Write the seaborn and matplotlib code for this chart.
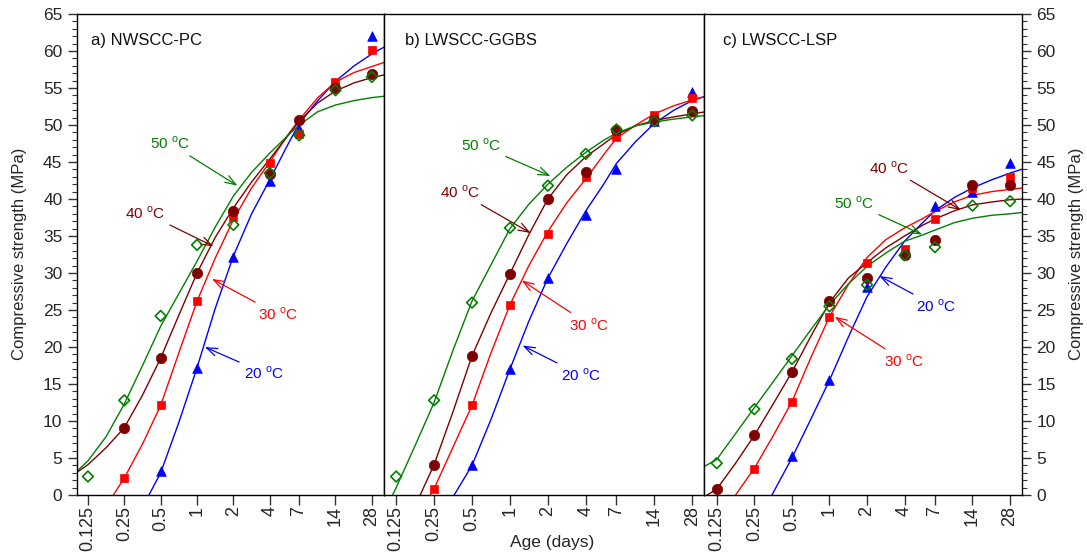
import numpy as np
import pandas as pd
import seaborn as sns
import matplotlib.pyplot as plt
from matplotlib.ticker import MultipleLocator, NullLocator, FixedLocator

nan = np.nan

# test ages (days) and curing temperatures
ages = [0.125, 0.25, 0.5, 1, 2, 4, 7, 14, 28]
age_labels = ['0.125', '0.25', '0.5', '1', '2', '4', '7', '14', '28']
temps = ['20', '30', '40', '50']

# measured compressive strength (MPa), NaN = no result
pc_20 = [nan, nan, 3.2, 17.2, 32.2, 42.4, 49.5, 55.5, 62.0]
pc_30 = [nan, 2.3, 12.1, 26.2, 37.6, 44.8, 48.8, 55.8, 60.1]
pc_40 = [nan, 9.1, 18.5, 30.0, 38.4, 43.4, 50.7, 55.0, 56.9]
pc_50 = [2.5, 12.8, 24.2, 33.8, 36.5, 43.5, 48.6, 54.7, 56.5]

gg_20 = [nan, nan, 4.0, 17.0, 29.3, 37.9, 44.1, 50.5, 54.4]
gg_30 = [nan, 0.85, 12.1, 25.7, 35.3, 43.0, 48.4, 51.4, 53.6]
gg_40 = [nan, 4.1, 18.8, 29.9, 40.0, 43.6, 49.3, 50.7, 51.9]
gg_50 = [2.5, 12.8, 26.0, 36.1, 41.8, 46.1, 49.4, 50.5, 51.3]

ls_20 = [nan, nan, 5.3, 15.5, 28.1, 33.0, 39.1, 41.0, 44.8]
ls_30 = [nan, 3.55, 12.6, 24.1, 31.3, 33.3, 37.3, 41.5, 43.0]
ls_40 = [0.8, 8.05, 16.6, 26.2, 29.3, 32.5, 34.4, 41.9, 41.9]
ls_50 = [4.3, 11.6, 18.4, 25.5, 28.4, 32.4, 33.5, 39.1, 39.7]

# fitted curves
fit_age = [0.098, 0.125, 0.177, 0.25, 0.354, 0.5, 0.707, 1, 1.414, 2, 2.83,
           4, 5.5, 7, 10, 14, 20, 28, 36]

pc_fit_20 = [nan, nan, nan, nan, nan, 3.0, 9.8, 17.2, 25.2, 32.3, 38.0,
             42.6, 47.0, 50.2, 53.3, 55.9, 58.0, 59.6, 60.6]
pc_fit_30 = [nan, nan, nan, 2.3, 6.9, 12.1, 19.2, 26.2, 32.0, 37.2, 41.5,
             45.0, 48.4, 50.7, 53.7, 55.8, 57.1, 57.9, 58.5]
pc_fit_40 = [2.9, 4.1, 6.4, 9.1, 13.5, 18.5, 24.3, 30.0, 34.8, 38.8, 42.3,
             45.4, 48.3, 50.5, 53.0, 54.6, 55.7, 56.4, 56.8]
pc_fit_50 = [3.0, 4.6, 7.9, 12.3, 17.5, 22.8, 27.2, 31.6, 36.2, 40.4, 43.6,
             46.2, 48.4, 50.0, 51.8, 52.7, 53.3, 53.7, 53.9]

gg_fit_20 = [nan, nan, nan, nan, nan, 4.0, 10.2, 17.0, 23.5, 29.3, 34.0,
             38.4, 41.9, 44.8, 47.8, 50.2, 52.0, 53.3, 53.9]
gg_fit_30 = [nan, nan, nan, 0.85, 6.5, 12.1, 19.2, 25.7, 31.0, 35.6, 39.5,
             42.7, 45.9, 48.2, 50.0, 51.5, 52.6, 53.4, 53.9]
gg_fit_40 = [nan, nan, nan, 4.1, 11.3, 18.8, 24.6, 29.9, 35.2, 40.0, 43.3,
             45.7, 47.4, 48.7, 49.9, 50.6, 51.1, 51.5, 51.8]
gg_fit_50 = [nan, 1.0, 6.7, 12.5, 19.6, 26.2, 31.1, 36.0, 39.3, 42.0, 44.3,
             46.3, 47.9, 48.9, 49.9, 50.4, 50.8, 51.1, 51.3]

ls_fit_20 = [nan, nan, nan, nan, nan, 5.0, 10.2, 15.5, 21.3, 26.8, 30.8,
             34.3, 36.7, 38.4, 40.2, 41.5, 42.6, 43.5, 44.1]
ls_fit_30 = [nan, nan, nan, 3.6, 8.0, 12.6, 18.5, 24.1, 28.4, 32.1, 34.5,
             36.1, 37.3, 38.3, 39.6, 40.5, 41.0, 41.3, 41.5]
ls_fit_40 = [nan, 0.8, 4.3, 8.05, 12.3, 16.6, 21.4, 26.0, 29.3, 31.4, 33.4,
             35.0, 36.4, 37.3, 38.4, 39.2, 39.6, 39.9, 40.0]
ls_fit_50 = [3.8, 4.8, 8.3, 11.8, 15.3, 18.8, 22.3, 25.7, 28.5, 30.9, 32.7,
             34.3, 35.1, 35.8, 36.8, 37.4, 37.8, 38.0, 38.2]

# age where a curve leaves the x axis (None = starts at the left edge)
pc_zero = [0.40, 0.203, None, None]
gg_zero = [0.361, 0.233, 0.194, 0.117]
ls_zero = [0.346, 0.177, 0.105, None]

titles = ['a) NWSCC-PC', 'b) LWSCC-GGBS', 'c) LWSCC-LSP']

# label text position and arrow tip (age, MPa) per temperature
pc_lab = [(3.57, 16.5), (4.68, 24.4), (0.374, 38.1), (0.598, 47.5)]
pc_tip = [(1.16, 20.0), (1.33, 29.2), (1.37, 33.6), (2.16, 41.8)]
gg_lab = [(3.68, 16.2), (4.27, 23.0), (0.40, 40.9), (0.59, 47.2)]
gg_tip = [(1.26, 20.2), (1.24, 29.0), (1.46, 35.4), (2.10, 43.1)]
ls_lab = [(7.16, 25.5), (3.99, 18.1), (3.03, 44.2), (1.58, 39.4)]
ls_tip = [(2.51, 29.6), (1.10, 24.1), (11.3, 38.5), (5.53, 35.2)]

panels = [
    ([pc_20, pc_30, pc_40, pc_50], [pc_fit_20, pc_fit_30, pc_fit_40, pc_fit_50], pc_zero, pc_lab, pc_tip),
    ([gg_20, gg_30, gg_40, gg_50], [gg_fit_20, gg_fit_30, gg_fit_40, gg_fit_50], gg_zero, gg_lab, gg_tip),
    ([ls_20, ls_30, ls_40, ls_50], [ls_fit_20, ls_fit_30, ls_fit_40, ls_fit_50], ls_zero, ls_lab, ls_tip),
]

colors = ['#0000ff', '#ff0000', '#7f0000', '#008000']
markers = ['^', 's', 'o', 'D']
sizes = [48, 32, 56, 30]

sns.set_theme(style='ticks')
plt.rcParams['font.family'] = ['Liberation Sans', 'DejaVu Sans']
plt.rcParams['mathtext.fontset'] = 'custom'
plt.rcParams['mathtext.rm'] = 'Liberation Sans'
plt.rcParams['axes.linewidth'] = 1.0
plt.rcParams['axes.edgecolor'] = 'black'

W, H = 1087, 556
fig = plt.figure(figsize=(W / 100, H / 100), dpi=100)
boxes = [(77, 307), (384, 320), (704, 318)]
xlims = [(0.1015, 35.3), (0.1001, 34.7), (0.0988, 34.9)]
title_x = [0.046, 0.066, 0.059]

for i, (meas, fits, zeros, labs, tips) in enumerate(panels):
    left, width = boxes[i]
    ax = fig.add_axes([left / W, 61 / H, width / W, 481 / H])
    ax.set_xscale('log', base=2)

    for j, t in enumerate(temps):
        # fitted curve
        cx = [a for a, v in zip(fit_age, fits[j]) if not np.isnan(v)]
        cy = [v for v in fits[j] if not np.isnan(v)]
        if zeros[j] is not None:
            cx = [zeros[j]] + cx
            cy = [0.0] + cy
        curve = pd.DataFrame({'age': cx, 'strength': cy})
        sns.lineplot(data=curve, x='age', y='strength', color=colors[j], lw=1.0,
                     sort=False, estimator=None, ax=ax)

    for j, t in enumerate(temps):
        pts = pd.DataFrame({'age': ages, 'strength': meas[j]}).dropna()
        if markers[j] == 'D':
            sns.scatterplot(data=pts, x='age', y='strength', marker='D', s=sizes[j],
                            color=colors[j], facecolor='none', edgecolor=colors[j],
                            linewidth=1.2, ax=ax, zorder=4)
        else:
            sns.scatterplot(data=pts, x='age', y='strength', marker=markers[j], s=sizes[j],
                            color=colors[j], edgecolor=colors[j], linewidth=0.5,
                            ax=ax, zorder=3)

    for j, t in enumerate(temps):
        ax.annotate(t + r' $^{\mathrm{o}}$C', xy=tips[j], xytext=labs[j],
                    color=colors[j], fontsize=11, ha='center', va='center',
                    arrowprops=dict(arrowstyle='->,head_length=0.7,head_width=0.25',
                                    color=colors[j], lw=0.9, shrinkA=1, shrinkB=0))

    ax.text(title_x[i], 0.944, titles[i], transform=ax.transAxes, fontsize=12,
            ha='left', va='center', color='#111111')

    ax.set_xlim(*xlims[i])
    ax.set_ylim(0, 65)
    ax.xaxis.set_major_locator(FixedLocator(ages))
    ax.xaxis.set_minor_locator(NullLocator())
    ax.set_xticklabels(age_labels, rotation=90, fontsize=13)
    ax.yaxis.set_major_locator(MultipleLocator(5))
    ax.yaxis.set_minor_locator(MultipleLocator(1))
    ax.set_xlabel('')
    ax.set_ylabel('')
    ax.tick_params(axis='x', direction='out', length=7, width=1, pad=1, color='#333333')
    ax.tick_params(axis='y', which='major', direction='out', length=6.5, width=1,
                   labelsize=12.5, pad=4, color='#333333')
    ax.tick_params(axis='y', which='minor', direction='out', length=3.4, width=0.8,
                   color='#333333')
    if i == 0:
        ax.tick_params(axis='y', which='both', left=True, right=False,
                       labelleft=True, labelright=False)
    elif i == 1:
        ax.tick_params(axis='y', which='both', left=False, right=False,
                       labelleft=False, labelright=False)
    else:
        ax.tick_params(axis='y', which='both', left=False, right=True,
                       labelleft=False, labelright=True)
    for sp in ax.spines.values():
        sp.set_color('black')
        sp.set_linewidth(1.0)

fig.text(20 / W, 1 - 254 / H, 'Compressive strength (MPa)', rotation=90,
         ha='center', va='center', fontsize=12)
fig.text(1076 / W, 1 - 254 / H, 'Compressive strength (MPa)', rotation=90,
         ha='center', va='center', fontsize=12)
fig.text(551.7 / W, 1 - 543 / H, 'Age (days)', ha='center', va='center', fontsize=12.5)

fig.savefig('out.png', dpi=100)
